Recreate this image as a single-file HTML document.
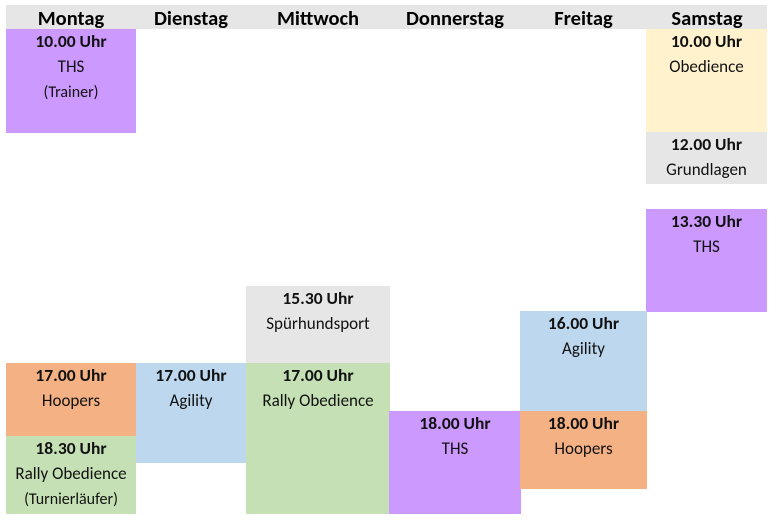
<!DOCTYPE html>
<html><head><meta charset="utf-8"><style>
body{margin:0;width:779px;height:526px;background:#fff;position:relative;overflow:hidden;font-family:Carlito,"Liberation Sans",sans-serif}
.h{position:absolute;left:6px;top:5px;width:761px;height:24px;background:#e7e6e6}
.d{position:absolute;top:5px;height:24px;line-height:27px;font-weight:bold;font-size:20.5px;text-align:center;color:#000}
.b{position:absolute;text-align:center;font-size:17px;line-height:25px;color:#111}
.b b{display:block;font-size:17.5px}
.s{font-size:16px}
</style></head><body>
<div class="h"></div>
<div class="d" style="left:6px;width:130px">Montag</div>
<div class="d" style="left:136px;width:110px">Dienstag</div>
<div class="d" style="left:246px;width:144px">Mittwoch</div>
<div class="d" style="left:390px;width:130px">Donnerstag</div>
<div class="d" style="left:520px;width:127px">Freitag</div>
<div class="d" style="left:647px;width:120px">Samstag</div>

<div class="b" style="left:6px;top:29px;width:130px;height:104px;background:#cc99ff"><b>10.00 Uhr</b>THS<br><span class="s">(Trainer)</span></div>
<div class="b" style="left:646px;top:29px;width:121px;height:103px;background:#fff2cc"><b>10.00 Uhr</b>Obedience</div>
<div class="b" style="left:646px;top:132px;width:121px;height:52px;background:#e7e6e6"><b>12.00 Uhr</b>Grundlagen</div>
<div class="b" style="left:646px;top:209px;width:121px;height:103px;background:#cc99ff"><b>13.30 Uhr</b>THS</div>

<div class="b" style="left:246px;top:286px;width:144px;height:77px;background:#e7e6e6"><b>15.30 Uhr</b>Spürhundsport</div>
<div class="b" style="left:520px;top:311px;width:127px;height:100px;background:#bdd7ee"><b>16.00 Uhr</b>Agility</div>

<div class="b" style="left:6px;top:363px;width:130px;height:73px;background:#f4b183"><b>17.00 Uhr</b>Hoopers</div>
<div class="b" style="left:6px;top:436px;width:130px;height:78px;background:#c5e0b4"><b>18.30 Uhr</b>Rally Obedience<br><span class="s">(Turnierläufer)</span></div>
<div class="b" style="left:136px;top:363px;width:110px;height:100px;background:#bdd7ee"><b>17.00 Uhr</b>Agility</div>
<div class="b" style="left:246px;top:363px;width:144px;height:151px;background:#c5e0b4"><b>17.00 Uhr</b>Rally Obedience</div>
<div class="b" style="left:389px;top:411px;width:132px;height:103px;background:#cc99ff"><b>18.00 Uhr</b>THS</div>
<div class="b" style="left:520px;top:411px;width:127px;height:78px;background:#f4b183"><b>18.00 Uhr</b>Hoopers</div>
</body></html>
